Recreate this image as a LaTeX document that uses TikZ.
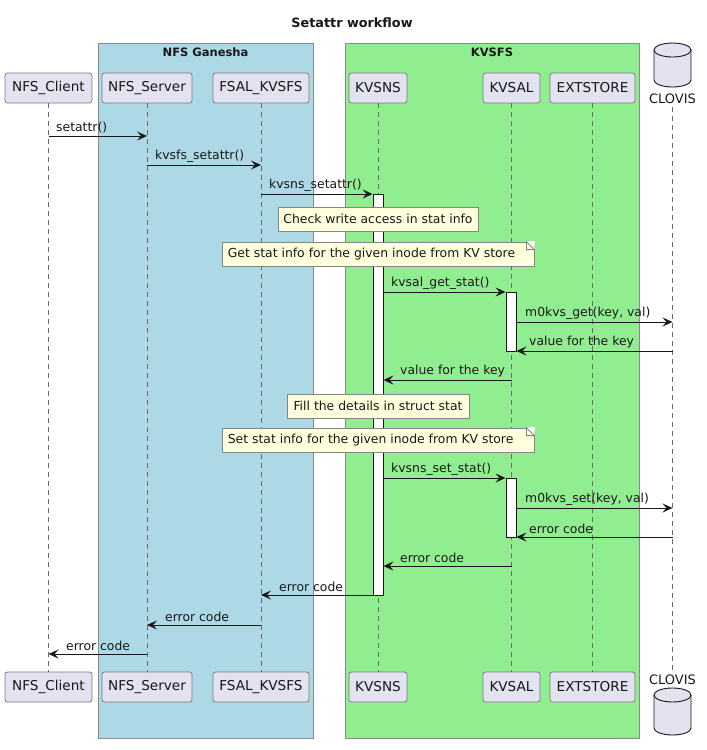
\documentclass[tikz,border=0pt]{standalone}
\usepackage{fontspec}
\setmainfont{DejaVu Sans}
\usetikzlibrary{arrows.meta,calc}
\definecolor{partfill}{HTML}{E2E2F0}
\definecolor{partdraw}{HTML}{7A7A7A}
\definecolor{grpdraw}{HTML}{8A8A8A}
\definecolor{bluegrp}{HTML}{ADD8E6}
\definecolor{greengrp}{HTML}{90EE90}
\definecolor{notefill}{HTML}{FEFFDD}
\definecolor{notedraw}{HTML}{858585}
\definecolor{lifecol}{HTML}{6A6A6A}
\definecolor{ink}{HTML}{181818}
\tikzset{
  x=1pt,y=1pt,
  part/.style={draw=partdraw,fill=partfill,rounded corners=2.5pt,line width=0.8pt,
    minimum height=30pt,inner sep=0pt,font=\fontsize{13.6}{16}\selectfont,text=ink},
  lifeline/.style={draw=lifecol,dash pattern=on 5pt off 4pt,line width=0.7pt},
  grp/.style={draw=grpdraw,line width=0.8pt},
  grptitle/.style={font=\fontsize{11.5}{14}\bfseries\selectfont,text=ink},
  actbox/.style={draw=ink,fill=white,line width=0.9pt,minimum width=10pt,inner sep=0pt},
  msg/.style={draw=ink,line width=0.9pt,-{Stealth[length=10pt,width=9pt,inset=4pt]}},
  lbl/.style={font=\fontsize{12.4}{14}\selectfont,text=ink,anchor=west,inner sep=0pt},
  notebox/.style={draw=notedraw,fill=notefill,line width=0.8pt,minimum height=24pt,inner sep=0pt,
    font=\fontsize{12.4}{14}\selectfont,text=ink},
  dbname/.style={font=\fontsize{13}{15}\selectfont,text=ink,inner sep=0pt},
}
\begin{document}
\begin{tikzpicture}
\useasboundingbox[fill=white] (0,0) rectangle (707,-750);

% title
\node[font=\fontsize{12.8}{15}\bfseries\selectfont,text=ink] (title) at (352,-23) {Setattr workflow};

% groups
\filldraw[grp,fill=bluegrp] (98,-43) rectangle (313,-738);
\filldraw[grp,fill=greengrp] (345,-43) rectangle (639,-738);
\node[grptitle] (gtitle1) at (205.5,-52) {NFS Ganesha};
\node[grptitle] (gtitle2) at (492,-52) {KVSFS};

% participants top
\node[part,minimum width=87pt] (cl) at (48.5,-88) {NFS\_Client};
\node[part,minimum width=90pt] (srv) at (147,-88) {NFS\_Server};
\node[part,minimum width=96pt] (fsal) at (261,-88) {FSAL\_KVSFS};
\node[part,minimum width=58pt] (ns) at (378,-88) {KVSNS};
\node[part,minimum width=57pt] (sal) at (511.5,-88) {KVSAL};
\node[part,minimum width=85pt] (ext) at (592.5,-88) {EXTSTORE};
% participants bottom
\node[part,minimum width=87pt] (clb) at (48.5,-687) {NFS\_Client};
\node[part,minimum width=90pt] (srvb) at (147,-687) {NFS\_Server};
\node[part,minimum width=96pt] (fsalb) at (261,-687) {FSAL\_KVSFS};
\node[part,minimum width=58pt] (nsb) at (378,-687) {KVSNS};
\node[part,minimum width=57pt] (salb) at (511.5,-687) {KVSAL};
\node[part,minimum width=85pt] (extb) at (592.5,-687) {EXTSTORE};

% CLOVIS database (top)
\filldraw[draw=ink,fill=partfill,line width=0.9pt]
  (654,-50) -- (654,-80) arc[start angle=180,end angle=360,x radius=18.5,y radius=7]
  -- (691,-50) arc[start angle=0,end angle=180,x radius=18.5,y radius=7] -- cycle;
\draw[draw=ink,line width=0.9pt] (654,-50) arc[start angle=180,end angle=360,x radius=18.5,y radius=7];
\node[dbname] (clv) at (672.5,-99) {CLOVIS};
% CLOVIS database (bottom)
\node[dbname] (clvb) at (672.5,-680) {CLOVIS};
\filldraw[draw=ink,fill=partfill,line width=0.9pt]
  (654,-695) -- (654,-728) arc[start angle=180,end angle=360,x radius=18.5,y radius=7]
  -- (691,-695) arc[start angle=0,end angle=180,x radius=18.5,y radius=7] -- cycle;
\draw[draw=ink,line width=0.9pt] (654,-695) arc[start angle=180,end angle=360,x radius=18.5,y radius=7];

% lifelines
\draw[lifeline] (cl.south) -- (clb.north);
\draw[lifeline] (srv.south) -- (srvb.north);
\draw[lifeline] (fsal.south) -- (fsalb.north);
\draw[lifeline] (ns.south) -- (nsb.north);
\draw[lifeline] (sal.south) -- (salb.north);
\draw[lifeline] (ext.south) -- (extb.north);
\draw[lifeline] ([yshift=-3pt]clv.south) -- ([yshift=3pt]clvb.north);

% activations
\node[actbox,minimum height=401pt] (act1) at (378,-394.5) {};
\node[actbox,minimum height=59pt] (act2) at (511,-321.5) {};
\node[actbox,minimum height=59pt] (act3) at (511,-507.5) {};

% message y levels
\coordinate (y1) at (0,-136);
\coordinate (y2) at (0,-165);
\coordinate (y3) at (0,-194);
\coordinate (y4) at (0,-292);
\coordinate (y5) at (0,-322);
\coordinate (y6) at (0,-351);
\coordinate (y7) at (0,-380);
\coordinate (y8) at (0,-478);
\coordinate (y9) at (0,-508);
\coordinate (y10) at (0,-537);
\coordinate (y11) at (0,-566);
\coordinate (y12) at (0,-595);
\coordinate (y13) at (0,-625);
\coordinate (y14) at (0,-654);

% notes
\node[notebox,minimum width=200pt] (n1) at (378,-219) {Check write access in stat info};
\node[notebox,minimum width=312pt] (n2) at (378,-254) {};
\node[lbl] (n2t) at ([xshift=6pt]n2.west) {Get stat info for the given inode from KV store};
\node[notebox,minimum width=182pt] (n3) at (378,-406) {Fill the details in struct stat};
\node[notebox,minimum width=312pt] (n4) at (378,-440) {};
\node[lbl] (n4t) at ([xshift=6pt]n4.west) {Set stat info for the given inode from KV store};

% folded corners
\foreach \nn in {n2,n4}{
  \fill[white] ([xshift=-8.6pt]\nn.north east) -- ([shift={(0.6pt,0.6pt)}]\nn.north east) -- ([yshift=-8.6pt]\nn.north east) -- cycle;
  \filldraw[draw=notedraw,fill=notefill,line width=0.8pt]
    ([xshift=-8pt]\nn.north east) -- ([yshift=-8pt]\nn.north east) -- ([xshift=-8pt,yshift=-8pt]\nn.north east) -- cycle;
}

% messages
\draw[msg] (cl|-y1) -- (srv|-y1);
\node[lbl] (l1) at (56,-127.5) {setattr()};
\draw[msg] (srv|-y2) -- (fsal|-y2);
\node[lbl] (l2) at (155,-156.5) {kvsfs\_setattr()};
\draw[msg] (fsal|-y3) -- (act1.west|-y3);
\node[lbl] (l3) at (269,-185.5) {kvsns\_setattr()};
\draw[msg] (act1.east|-y4) -- (act2.west|-y4);
\node[lbl] (l4) at (391,-283.5) {kvsal\_get\_stat()};
\draw[msg] (act2.east|-y5) -- (clv|-y5);
\node[lbl] (l5) at (525,-313.5) {m0kvs\_get(key, val)};
\draw[msg] (clv|-y6) -- (act2.east|-y6);
\node[lbl] (l6) at (529,-342.5) {value for the key};
\draw[msg] (sal|-y7) -- (act1.east|-y7);
\node[lbl] (l7) at (400,-371.5) {value for the key};
\draw[msg] (act1.east|-y8) -- (act3.west|-y8);
\node[lbl] (l8) at (391,-469.5) {kvsns\_set\_stat()};
\draw[msg] (act3.east|-y9) -- (clv|-y9);
\node[lbl] (l9) at (525,-499.5) {m0kvs\_set(key, val)};
\draw[msg] (clv|-y10) -- (act3.east|-y10);
\node[lbl] (l10) at (529,-528.5) {error code};
\draw[msg] (sal|-y11) -- (act1.east|-y11);
\node[lbl] (l11) at (400,-557.5) {error code};
\draw[msg] (act1.west|-y12) -- (fsal|-y12);
\node[lbl] (l12) at (279,-586.5) {error code};
\draw[msg] (fsal|-y13) -- (srv|-y13);
\node[lbl] (l13) at (165,-616.5) {error code};
\draw[msg] (srv|-y14) -- (cl|-y14);
\node[lbl] (l14) at (66,-645.5) {error code};
\end{tikzpicture}
\end{document}
